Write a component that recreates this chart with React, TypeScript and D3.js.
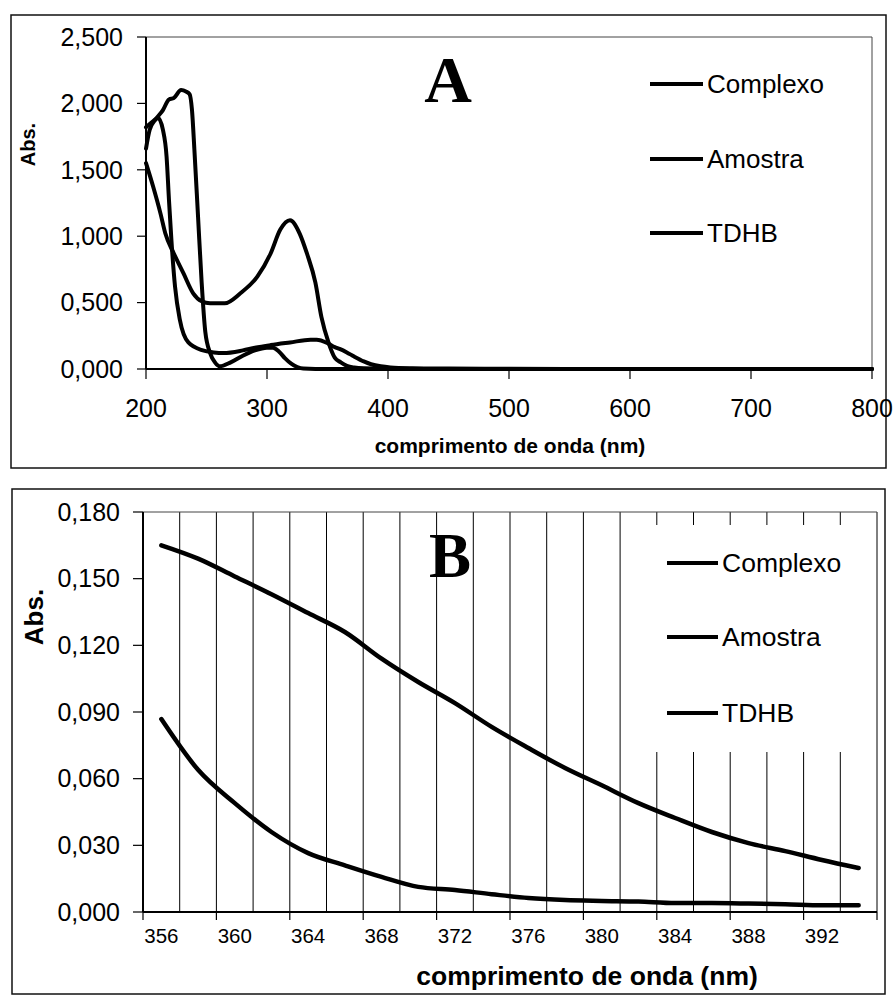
import React from "react";
import * as d3 from "d3";

// ---------- Panel A data (wavelength nm, absorbance) ----------
const complexoNmA = [200, 206, 212, 216, 223, 231, 239, 246, 253, 265, 278, 292, 303, 311, 319, 327, 333, 340, 345, 351, 356, 361, 366, 372, 380, 400, 450, 500, 600, 700, 800];
const complexoAbsA = [1.55, 1.37, 1.17, 1.02, 0.87, 0.72, 0.57, 0.51, 0.495, 0.495, 0.57, 0.695, 0.87, 1.05, 1.12, 1.02, 0.87, 0.65, 0.39, 0.195, 0.085, 0.05, 0.024, 0.011, 0.005, 0.002, 0, 0, 0, 0, 0];

const amostraNmA = [200, 205, 210, 214, 217, 219, 221, 224, 228, 235, 247, 256, 264, 280, 290, 303, 319, 336, 341, 350, 356, 360, 366, 372, 380, 386, 394, 402, 420, 450, 500, 600, 700, 800];
const amostraAbsA = [1.82, 1.86, 1.89, 1.8, 1.6, 1.27, 0.97, 0.62, 0.37, 0.2, 0.14, 0.125, 0.12, 0.14, 0.16, 0.18, 0.2, 0.22, 0.22, 0.195, 0.165, 0.151, 0.125, 0.094, 0.057, 0.036, 0.02, 0.012, 0.006, 0.003, 0.001, 0, 0, 0];

const tdhbNmA = [200, 203, 208, 214, 219, 223, 229, 233, 236, 238, 240, 243, 246, 249, 253, 257, 261, 270, 280, 290, 300, 305, 310, 315, 320, 325, 330, 340, 400, 500, 600, 700, 800];
const tdhbAbsA = [1.66, 1.8, 1.88, 1.95, 2.03, 2.04, 2.1, 2.09, 2.07, 1.95, 1.65, 1.15, 0.65, 0.28, 0.12, 0.05, 0.02, 0.05, 0.1, 0.14, 0.16, 0.16, 0.13, 0.08, 0.04, 0.015, 0.003, 0, 0, 0, 0, 0, 0];

const xTicksA = [200, 300, 400, 500, 600, 700, 800];
const yTicksA = [0, 0.5, 1.0, 1.5, 2.0, 2.5];

// ---------- Panel B data (categories every 2 nm) ----------
const categoriesB = [356, 358, 360, 362, 364, 366, 368, 370, 372, 374, 376, 378, 380, 382, 384, 386, 388, 390, 392, 394];
const amostraB = [0.165, 0.159, 0.151, 0.143, 0.1345, 0.126, 0.114, 0.1035, 0.094, 0.0833, 0.0738, 0.0648, 0.057, 0.049, 0.0423, 0.036, 0.031, 0.0274, 0.0234, 0.0198];
const complexoB = [0.0868, 0.064, 0.049, 0.036, 0.0265, 0.021, 0.0158, 0.0113, 0.0099, 0.008, 0.0063, 0.0054, 0.005, 0.0047, 0.004, 0.004, 0.0038, 0.0035, 0.003, 0.003];
const yTicksB = [0, 0.03, 0.06, 0.09, 0.12, 0.15, 0.18];

const legendNames = ["Complexo", "Amostra", "TDHB"];

const SANS = "'Liberation Sans', Arial, Helvetica, sans-serif";
const SERIF = "'Liberation Serif', 'Times New Roman', serif";

const fmt = (v: number) => d3.format(".3f")(v).replace(".", ",");

function PanelA() {
  const x = d3.scaleLinear().domain([200, 800]).range([146, 872]);
  const y = d3.scaleLinear().domain([0, 2.5]).range([369, 37]);
  const line = d3
    .line<[number, number]>()
    .x((d) => x(d[0]))
    .y((d) => y(d[1]))
    .curve(d3.curveMonotoneX);
  const series = [
    { nm: complexoNmA, abs: complexoAbsA },
    { nm: amostraNmA, abs: amostraAbsA },
    { nm: tdhbNmA, abs: tdhbAbsA },
  ];
  const legendY = [84, 159, 233];
  return (
    <g>
      <rect x={11} y={15} width={875} height={453} fill="none" stroke="#111" strokeWidth={1.5} />
      {/* plot area border top/right */}
      <line x1={x(200)} x2={x(800)} y1={y(2.5)} y2={y(2.5)} stroke="#444" strokeWidth={1} />
      <line x1={x(800)} x2={x(800)} y1={y(2.5)} y2={y(0)} stroke="#444" strokeWidth={1} />
      {/* series */}
      {series.map((s, i) => (
        <path
          key={i}
          d={line(s.nm.map((n, j) => [n, s.abs[j]] as [number, number])) || ""}
          fill="none"
          stroke="#000"
          strokeWidth={4}
          strokeLinejoin="round"
          strokeLinecap="round"
        />
      ))}
      {/* axes */}
      <line x1={x(200)} x2={x(200)} y1={y(2.5)} y2={y(0)} stroke="#000" strokeWidth={2} />
      <line x1={x(200)} x2={x(800)} y1={y(0)} y2={y(0)} stroke="#000" strokeWidth={2} />
      {yTicksA.map((t) => (
        <g key={t}>
          <line x1={x(200) - 9} x2={x(200)} y1={y(t)} y2={y(t)} stroke="#000" strokeWidth={1.2} />
          <text x={123} y={y(t)} dy="0.35em" textAnchor="end" fontFamily={SANS} fontSize={25}>
            {fmt(t)}
          </text>
        </g>
      ))}
      {xTicksA.map((t) => (
        <g key={t}>
          <line x1={x(t)} x2={x(t)} y1={y(0)} y2={y(0) + 10} stroke="#000" strokeWidth={1.2} />
          <text x={x(t)} y={417} textAnchor="middle" fontFamily={SANS} fontSize={25}>
            {t}
          </text>
        </g>
      ))}
      <text
        transform="translate(35,144.5) rotate(-90)"
        textAnchor="middle"
        fontFamily={SANS}
        fontWeight="bold"
        fontSize={20}
      >
        Abs.
      </text>
      <text x={510} y={453} textAnchor="middle" fontFamily={SANS} fontWeight="bold" fontSize={21}>
        comprimento de onda (nm)
      </text>
      <text x={448} y={102} textAnchor="middle" fontFamily={SERIF} fontWeight="bold" fontSize={66}>
        A
      </text>
      {legendNames.map((n, i) => (
        <g key={n}>
          <line x1={650} x2={703} y1={legendY[i]} y2={legendY[i]} stroke="#000" strokeWidth={4} />
          <text x={707} y={legendY[i]} dy="0.35em" fontFamily={SANS} fontSize={26}>
            {n}
          </text>
        </g>
      ))}
    </g>
  );
}

function PanelB() {
  const x = d3.scaleBand<number>().domain(categoriesB).range([143, 877]).padding(0);
  const bw = x.bandwidth();
  const cx = (c: number) => (x(c) as number) + bw / 2;
  const y = d3.scaleLinear().domain([0, 0.18]).range([912, 512]);
  const line = d3
    .line<[number, number]>()
    .x((d) => cx(d[0]))
    .y((d) => y(d[1]))
    .curve(d3.curveMonotoneX);
  const series = [complexoB, amostraB];
  const boundaries = d3.range(0, categoriesB.length + 1).map((i) => 143 + i * bw);
  const legendY = [563, 637, 713];
  return (
    <g>
      <rect x={12} y={489} width={873} height={505} fill="none" stroke="#111" strokeWidth={1.5} />
      {/* gridlines */}
      {boundaries.slice(1).map((b, i) => (
        <line key={i} x1={b} x2={b} y1={y(0.18)} y2={y(0)} stroke="#000" strokeWidth={1} />
      ))}
      <line x1={143} x2={877} y1={y(0.18)} y2={y(0.18)} stroke="#444" strokeWidth={1} />
      {/* series */}
      {series.map((s, i) => (
        <path
          key={i}
          d={line(categoriesB.map((c, j) => [c, s[j]] as [number, number])) || ""}
          fill="none"
          stroke="#000"
          strokeWidth={4.5}
          strokeLinejoin="round"
          strokeLinecap="round"
        />
      ))}
      {/* legend box */}
      <rect x={641} y={525} width={234} height={227} fill="#fff" />
      {legendNames.map((n, i) => (
        <g key={n}>
          <line x1={667} x2={718} y1={legendY[i]} y2={legendY[i]} stroke="#000" strokeWidth={4} />
          <text x={722} y={legendY[i]} dy="0.35em" fontFamily={SANS} fontSize={26.5}>
            {n}
          </text>
        </g>
      ))}
      {/* axes */}
      <line x1={143} x2={143} y1={y(0.18)} y2={y(0)} stroke="#000" strokeWidth={2} />
      <line x1={143} x2={877} y1={y(0)} y2={y(0)} stroke="#000" strokeWidth={2} />
      {yTicksB.map((t) => (
        <g key={t}>
          <line x1={133} x2={143} y1={y(t)} y2={y(t)} stroke="#000" strokeWidth={1.2} />
          <text x={120} y={y(t)} dy="0.35em" textAnchor="end" fontFamily={SANS} fontSize={25}>
            {fmt(t)}
          </text>
        </g>
      ))}
      {boundaries
        .filter((_, i) => i % 2 === 0)
        .map((b, i) => (
          <line key={i} x1={b} x2={b} y1={y(0)} y2={y(0) + 8} stroke="#000" strokeWidth={1.2} />
        ))}
      {categoriesB
        .filter((_, i) => i % 2 === 0)
        .map((c) => (
          <text key={c} x={cx(c)} y={943} textAnchor="middle" fontFamily={SANS} fontSize={20.5}>
            {c}
          </text>
        ))}
      <text
        transform="translate(43,617) rotate(-90)"
        textAnchor="middle"
        fontFamily={SANS}
        fontWeight="bold"
        fontSize={26}
      >
        Abs.
      </text>
      <text x={587} y={985} textAnchor="middle" fontFamily={SANS} fontWeight="bold" fontSize={26.5}>
        comprimento de onda (nm)
      </text>
      <text x={450} y={577} textAnchor="middle" fontFamily={SERIF} fontWeight="bold" fontSize={63}>
        B
      </text>
    </g>
  );
}

export default function App() {
  return (
    <svg
      width={895}
      height={995}
      viewBox="0 0 895 995"
      style={{ position: "absolute", left: 0, top: 0, background: "#fff" }}
    >
      <rect x={0} y={0} width={895} height={995} fill="#fff" />
      <PanelA />
      <PanelB />
    </svg>
  );
}
